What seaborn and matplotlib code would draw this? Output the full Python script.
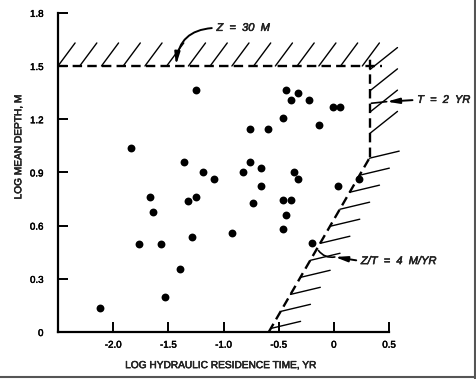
import numpy as np
import pandas as pd
import matplotlib
matplotlib.use("Agg")
import matplotlib.pyplot as plt
from matplotlib.lines import Line2D
import matplotlib.patheffects as pe
import seaborn as sns

# ---------------- data ----------------
log_residence_time = [-1.25, -1.84, -1.355, -1.19, -1.09, -0.76, -0.60, -0.825, -0.76, -0.66,
                      -0.66, -0.46, -0.43, -0.39, -0.325, -0.225, -0.13, -0.01, 0.06, -0.36,
                      -0.325, 0.035, 0.225, -1.665, -1.635, -1.77, -1.565, -1.32, -1.25, -1.29,
                      -1.39, -1.53, -2.115, -0.92, -0.73, -0.46, -0.39, -0.43, -0.465, -0.195]
log_mean_depth = [1.365, 1.04, 0.96, 0.90, 0.86, 1.147, 1.147, 0.90, 0.96, 0.925,
                  0.825, 1.207, 1.365, 1.307, 1.346, 1.308, 1.166, 1.269, 1.269, 0.904,
                  0.863, 0.825, 0.863, 0.76, 0.677, 0.495, 0.495, 0.737, 0.76, 0.534,
                  0.355, 0.196, 0.137, 0.557, 0.726, 0.744, 0.744, 0.66, 0.58, 0.502]

depth_limit = 1.5          # Z = 30 M
time_limit = 0.327         # T = 2 YR
rate_line_x = [-0.59, 0.327]   # Z/T = 4 M/YR
rate_line_y = [0.0, 0.985]

x_ticks = [-2.0, -1.5, -1.0, -0.5, 0.0, 0.5]
x_tick_labels = ["-2.0", "-1.5", "-1.0", "-0.5", "0", "0.5"]
y_ticks = [0, 0.3, 0.6, 0.9, 1.2, 1.5, 1.8]
y_tick_labels = ["0", "0.3", "0.6", "0.9", "1.2", "1.5", "1.8"]

df = pd.DataFrame({"x": log_residence_time, "y": log_mean_depth})

# ---------------- style ----------------
sns.set_style("ticks")
plt.rcParams["font.family"] = ["Liberation Sans", "DejaVu Sans"]
stroke = [pe.withStroke(linewidth=0.35, foreground="black")]

fig = plt.figure(figsize=(4.76, 3.79), dpi=100)
fig.patch.set_facecolor("white")
ax = fig.add_axes([58 / 476, 1 - 332 / 379, (389 - 58) / 476, (332 - 12.8) / 379])

sns.scatterplot(data=df, x="x", y="y", ax=ax, color="black", s=32,
                edgecolor="black", linewidth=0, legend=False, zorder=3)

ax.set_xlim(-2.5, 0.5)
ax.set_ylim(0, 1.8)
ax.set_xticks(x_ticks)
ax.set_xticklabels(x_tick_labels)
ax.set_yticks(y_ticks)
ax.set_yticklabels(y_tick_labels)
for s in ["top", "right"]:
    ax.spines[s].set_visible(False)
for s in ["left", "bottom"]:
    ax.spines[s].set_linewidth(1.6)
    ax.spines[s].set_color("black")
ax.tick_params(axis="both", direction="in", length=7.5, width=1.4, colors="black",
               labelsize=7)
ax.tick_params(axis="x", pad=5.5)
ax.tick_params(axis="y", pad=10.5)
for lab in ax.get_xticklabels() + ax.get_yticklabels():
    lab.set_path_effects(stroke)

ax.set_xlabel("LOG HYDRAULIC RESIDENCE TIME, YR", fontsize=7.3, path_effects=stroke)
ax.set_ylabel("LOG MEAN DEPTH, M", fontsize=7.3, path_effects=stroke)
ax.xaxis.set_label_coords(0.492, -0.088)
ax.yaxis.set_label_coords(-0.105, 0.58)

# ---------------- boundary lines ----------------
dash = (4, 2.2)
ax.plot([-2.5, 0.44], [depth_limit, depth_limit], color="black", lw=1.7, dashes=dash,
        clip_on=False, zorder=2)
ax.plot([time_limit, time_limit], [rate_line_y[1], 1.56], color="black", lw=1.7,
        dashes=dash, clip_on=False, zorder=2)
ax.plot(rate_line_x, rate_line_y, color="black", lw=1.7, dashes=dash, clip_on=False,
        zorder=2)

hatch_kw = dict(color="black", lw=1.0, clip_on=False, zorder=2)
# top hatching
for k in range(15):
    x0 = -2.5 + 0.197 * k
    ax.plot([x0, x0 + 0.155], [depth_limit, depth_limit + 0.13], **hatch_kw)
# right hatching
for y0 in [1.48, 1.36, 1.24, 1.12]:
    ax.plot([time_limit, time_limit + 0.25], [y0, y0 + 0.124], **hatch_kw)
# diagonal hatching
slope = (rate_line_y[1] - rate_line_y[0]) / (rate_line_x[1] - rate_line_x[0])
for k in range(11):
    y0 = 0.02 + 0.096 * k
    x0 = rate_line_x[0] + y0 / slope
    ax.plot([x0, x0 + 0.27], [y0, y0 + 0.04], **hatch_kw)

# ---------------- annotations ----------------
arrow_kw = dict(arrowstyle="-|>,head_length=0.9,head_width=0.2", color="black", lw=1.4,
                shrinkA=1, shrinkB=0, relpos=(0, 0.5))
ax.annotate("Z  =  30  M", xy=(-1.43, 1.505), xytext=(-1.064, 1.715),
            fontsize=8, style="italic", ha="left", va="center", path_effects=stroke,
            arrowprops=dict(connectionstyle="arc3,rad=0.45", **arrow_kw),
            annotation_clip=False)

ax.annotate("T  =  2  YR", xy=(0.479, 1.299), xytext=(0.755, 1.309),
            fontsize=8, style="italic", ha="left", va="center", path_effects=stroke,
            arrowprops=dict(connectionstyle="arc3,rad=0", **arrow_kw),
            annotation_clip=False)
ax.annotate("", xy=(0.34, 1.29), xytext=(0.479, 1.299),
            arrowprops=dict(arrowstyle="-", color="black", lw=1.2, shrinkA=0, shrinkB=0),
            annotation_clip=False)

ax.annotate("Z/T  =  4  M/YR", xy=(0.009, 0.423), xytext=(0.245, 0.40),
            fontsize=8, style="italic", ha="left", va="center", path_effects=stroke,
            arrowprops=dict(connectionstyle="arc3,rad=0", **arrow_kw),
            annotation_clip=False)
ax.annotate("", xy=(-0.14, 0.46), xytext=(0.009, 0.423),
            arrowprops=dict(arrowstyle="-", color="black", lw=1.2, shrinkA=0, shrinkB=0,
                            connectionstyle="arc3,rad=-0.3"),
            annotation_clip=False)

# scan frame edges
fig.add_artist(Line2D([0.997, 0.997], [0, 1], transform=fig.transFigure,
                      color="#555555", lw=1.5))
fig.add_artist(Line2D([0, 1], [0.006, 0.006], transform=fig.transFigure,
                      color="#555555", lw=1.5))

fig.savefig("out.png", dpi=100)
